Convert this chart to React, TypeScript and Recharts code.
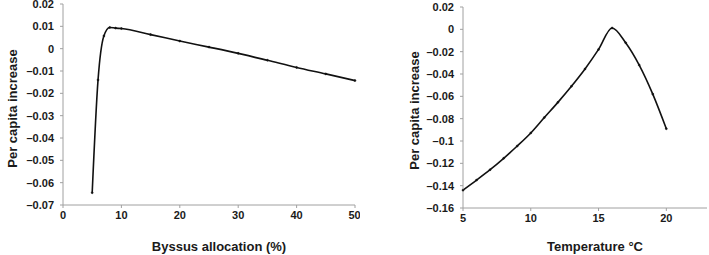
import React from 'react';
import { LineChart, Line, XAxis, YAxis } from 'recharts';

const byssusX = [5, 6, 7, 8, 9, 10, 15, 20, 25, 30, 35, 40, 45, 50];
const byssusY = [-0.0645, -0.014, 0.0057, 0.0095, 0.0092, 0.009, 0.0063, 0.0034, 0.0007, -0.0021, -0.0052, -0.0084, -0.0113, -0.0143];
const byssusTicksX = [0, 10, 20, 30, 40, 50];
const byssusTicksY = [0.02, 0.01, 0, -0.01, -0.02, -0.03, -0.04, -0.05, -0.06, -0.07];

const tempX = [5, 6, 7, 8, 9, 10, 11, 12, 13, 14, 15, 16, 17, 18, 19, 20];
const tempY = [-0.144, -0.135, -0.1257, -0.1155, -0.1045, -0.0928, -0.079, -0.0654, -0.051, -0.0355, -0.018, 0.0012, -0.012, -0.032, -0.058, -0.089];
const tempTicksX = [5, 10, 15, 20];
const tempTicksY = [0.02, 0, -0.02, -0.04, -0.06, -0.08, -0.1, -0.12, -0.14, -0.16];

const byssusData = byssusX.map((x, i) => ({ x, y: byssusY[i] }));
const tempData = tempX.map((x, i) => ({ x, y: tempY[i] }));

const FONT = '"Liberation Sans", Arial, sans-serif';
const AXIS = '#a0a0a0';
const TEXT = '#1a1a1a';

const fmt = (v: number) => {
  if (v === 0) return '0';
  const s = String(Math.abs(Number(v.toFixed(4))));
  return v < 0 ? '\u2013' + s : s;
};

const tickStyle = { fontSize: 11, fontWeight: 700, fill: TEXT, fontFamily: FONT };

const xTitle = (text: string, dx: number) => (props: any) => {
  const vb = props.viewBox;
  return (
    <text x={vb.x + vb.width / 2 + dx} y={vb.y + vb.height - 4} textAnchor="middle"
      style={{ fontSize: 13, fontWeight: 700, fill: TEXT, fontFamily: FONT }}>{text}</text>
  );
};

const yTitle = (text: string, cx: number, dy: number) => (props: any) => {
  const vb = props.viewBox;
  const cy = vb.y + vb.height / 2 + dy;
  return (
    <text x={cx} y={cy} textAnchor="middle" dominantBaseline="central"
      transform={`rotate(-90, ${cx}, ${cy})`}
      style={{ fontSize: 13, fontWeight: 700, fill: TEXT, fontFamily: FONT }}>{text}</text>
  );
};

export default function App() {
  return (
    <div style={{ position: 'absolute', left: 0, top: 0, width: 709, height: 255, background: '#fff', display: 'flex' }}>
      <LineChart width={360} height={255} data={byssusData} margin={{ top: 4, right: 5, bottom: 0, left: 0 }}>
        <XAxis dataKey="x" type="number" domain={[0, 50]} ticks={byssusTicksX} height={50}
          tick={tickStyle} tickSize={3} tickMargin={3} stroke={AXIS} tickLine={{ stroke: AXIS }}
          label={{ content: xTitle('Byssus allocation (%)', 10) }} />
        <YAxis dataKey="y" type="number" domain={[-0.07, 0.02]} ticks={byssusTicksY} width={63}
          tick={tickStyle} tickSize={3} tickMargin={6} stroke={AXIS} tickLine={{ stroke: AXIS }}
          tickFormatter={fmt} interval={0}
          label={{ content: yTitle('Per capita increase', 12, 4) }} />
        <Line dataKey="y" type="monotone" stroke="#111" strokeWidth={1.6} isAnimationActive={false}
          dot={{ r: 1, fill: '#111', stroke: '#111', strokeWidth: 0.5 }} />
      </LineChart>
      <LineChart width={349} height={255} data={tempData} margin={{ top: 7, right: 2, bottom: 0, left: 0 }}>
        <XAxis dataKey="x" type="number" domain={[5, 23]} ticks={tempTicksX} height={47}
          tick={tickStyle} tickSize={3} tickMargin={3} stroke={AXIS} tickLine={{ stroke: AXIS }}
          label={{ content: xTitle('Temperature \u00B0C', 10) }} />
        <YAxis dataKey="y" type="number" domain={[-0.16, 0.02]} ticks={tempTicksY} width={103}
          tick={tickStyle} tickSize={3} tickMargin={6} stroke={AXIS} tickLine={{ stroke: AXIS }}
          tickFormatter={fmt} interval={0}
          label={{ content: yTitle('Per capita increase', 54, 3) }} />
        <Line dataKey="y" type="monotone" stroke="#111" strokeWidth={1.6} isAnimationActive={false}
          dot={{ r: 1, fill: '#111', stroke: '#111', strokeWidth: 0.5 }} />
      </LineChart>
    </div>
  );
}
